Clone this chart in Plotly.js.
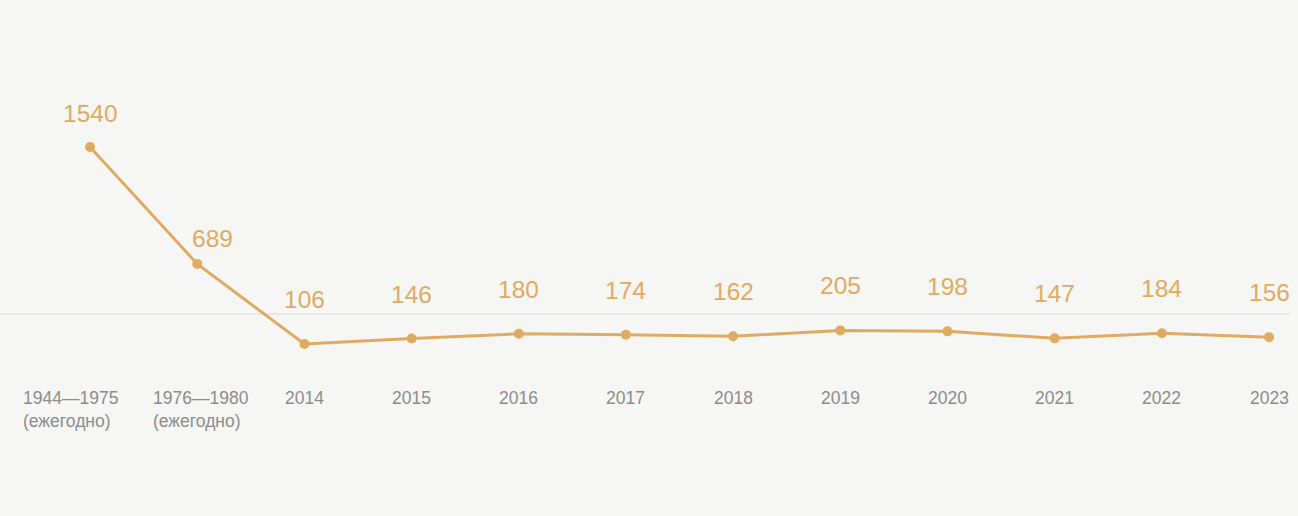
<!DOCTYPE html>
<html>
<head>
<meta charset="utf-8">
<script src="https://cdn.plot.ly/plotly-3.0.1.min.js"></script>
<style>html,body{margin:0;padding:0;background:#f6f6f4;}#chart{width:1298px;height:516px;}</style>
</head>
<body>
<div id="chart"></div>
<script>
const categories = ["1944—1975", "1976—1980", "2014", "2015", "2016", "2017", "2018", "2019", "2020", "2021", "2022", "2023"];
const tickLabels = ["1944—1975<br>(ежегодно)", "1976—1980<br>(ежегодно)", "2014", "2015", "2016", "2017", "2018", "2019", "2020", "2021", "2022", "2023"];
const values = [1540, 689, 106, 146, 180, 174, 162, 205, 198, 147, 184, 156];

const ORANGE = "#dfab63";
const GRAY = "#8c8c8c";
const FONT = "Liberation Sans, Arial, sans-serif";

const trace = {
  x: categories,
  y: values,
  type: "scatter",
  mode: "lines+markers",
  line: {color: ORANGE, width: 3},
  marker: {color: ORANGE, size: 10},
  hoverinfo: "skip"
};

const annotations = [];
values.forEach((v, i) => {
  annotations.push({
    x: i, y: v, xref: "x", yref: "y",
    text: String(v), showarrow: false,
    yanchor: "bottom", yshift: i === 0 ? 18 : (i === 1 ? 10 : 29),
    xshift: i === 1 ? 15 : 0,
    font: {family: FONT, size: 24.5, color: ORANGE}
  });
});
tickLabels.forEach((t, i) => {
  const multi = i < 2;
  annotations.push({
    x: i, y: 0.252, xref: "x", yref: "paper",
    text: t, showarrow: false,
    xanchor: multi ? "left" : "center", yanchor: "top",
    align: multi ? "left" : "center",
    xshift: multi ? (i === 0 ? -69 : -46) : 0,
    font: {family: FONT, size: 17.5, color: GRAY}
  });
});

const layout = {
  width: 1298, height: 516,
  margin: {l: 0, r: 0, t: 0, b: 0},
  paper_bgcolor: "#f6f6f4",
  plot_bgcolor: "#f6f6f4",
  showlegend: false,
  xaxis: {type: "category", range: [-0.84, 11.27], showgrid: false, zeroline: false, showticklabels: false, showline: false},
  yaxis: {range: [-1146, 2610], showgrid: false, zeroline: false, showticklabels: false, showline: false},
  shapes: [{type: "line", xref: "paper", yref: "paper", x0: 0, x1: 0.994, y0: 0.3915, y1: 0.3915,
            line: {color: "#d8d8d6", width: 1.2}, layer: "below"}],
  annotations: annotations
};

Plotly.newPlot("chart", [trace], layout, {staticPlot: true, displayModeBar: false});
</script>
</body>
</html>
